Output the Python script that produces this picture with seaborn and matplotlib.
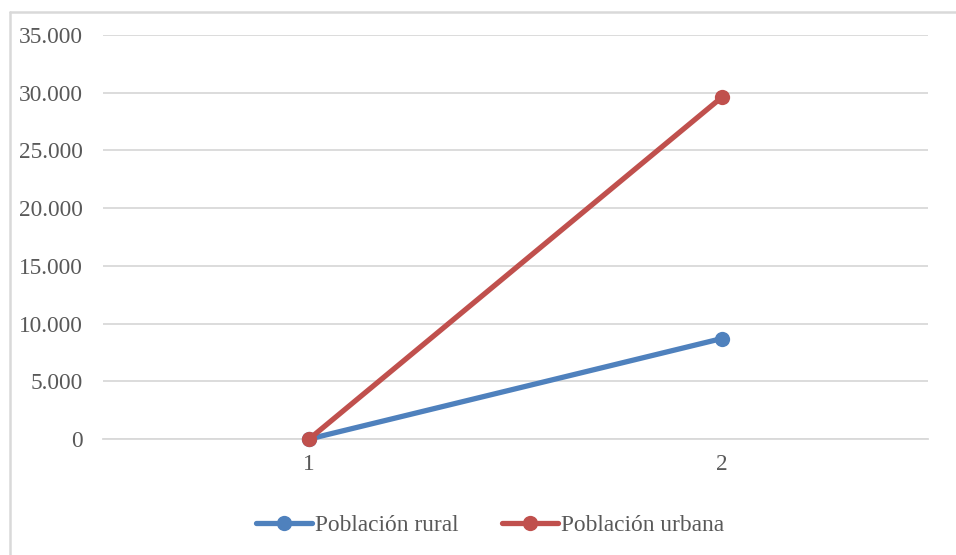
import matplotlib
matplotlib.use("Agg")
import matplotlib.pyplot as plt
from matplotlib.lines import Line2D
from matplotlib.ticker import FuncFormatter
import seaborn as sns
import pandas as pd

categories = [1, 2]
rural = [0, 8700]
urban = [0, 29600]
series_names = ["Población rural", "Población urbana"]
colors = ["#4F81BD", "#C0504D"]

df = pd.DataFrame({
    "x": categories * 2,
    "y": rural + urban,
    "serie": [series_names[0]] * len(categories) + [series_names[1]] * len(categories),
})

sns.set_theme(style="white")
plt.rcParams["font.family"] = ["Liberation Serif", "DejaVu Serif"]

fig = plt.figure(figsize=(9.56, 5.55), dpi=100)
W, H = 956, 555
ax = fig.add_axes([103 / W, 1 - 439 / H, (928 - 103) / W, (439 - 35) / H])

sns.lineplot(data=df, x="x", y="y", hue="serie", palette=colors, ax=ax,
             linewidth=3.8, marker="o", markersize=11, markeredgewidth=0,
             legend=False, clip_on=False)

ax.set_xlim(0.5, 2.5)
ax.set_ylim(0, 35000)
ax.set_xticks(categories)
ax.set_xticklabels([str(c) for c in categories])
ax.set_yticks(range(0, 35001, 5000))
ax.yaxis.set_major_formatter(FuncFormatter(lambda v, p: f"{int(v):,}".replace(",", ".")))
ax.grid(axis="y", color="#D9D9D9", linewidth=1.3)
ax.set_axisbelow(True)
for s in ["top", "right", "left"]:
    ax.spines[s].set_visible(False)
ax.spines["bottom"].set_color("#D9D9D9")
ax.spines["bottom"].set_linewidth(1.3)
ax.spines["bottom"].set_zorder(0.5)
ax.tick_params(axis="y", length=0, pad=14.5, labelsize=16.8, labelcolor="#595959")
ax.tick_params(axis="x", length=0, pad=11, labelsize=16.8, labelcolor="#595959")
ax.set_xlabel("")
ax.set_ylabel("")

handles = [Line2D([0], [0], color=c, linewidth=3.8, marker="o", markersize=11,
                  markeredgewidth=0) for c in colors]
fig.legend(handles, series_names, loc="center", bbox_to_anchor=(490 / W, 1 - 525 / H),
           ncol=2, frameon=False, fontsize=16.8, handlelength=2.4, handletextpad=0.1,
           columnspacing=1.9, labelcolor="#595959")

# outer chart border (top and left visible)
fig.add_artist(Line2D([10 / W, 1], [1 - 12 / H, 1 - 12 / H], transform=fig.transFigure,
                      color="#D9D9D9", linewidth=1.8))
fig.add_artist(Line2D([10 / W, 10 / W], [1 - 12 / H, 0], transform=fig.transFigure,
                      color="#D9D9D9", linewidth=1.8))

fig.savefig("out.png", dpi=100, facecolor="white")
